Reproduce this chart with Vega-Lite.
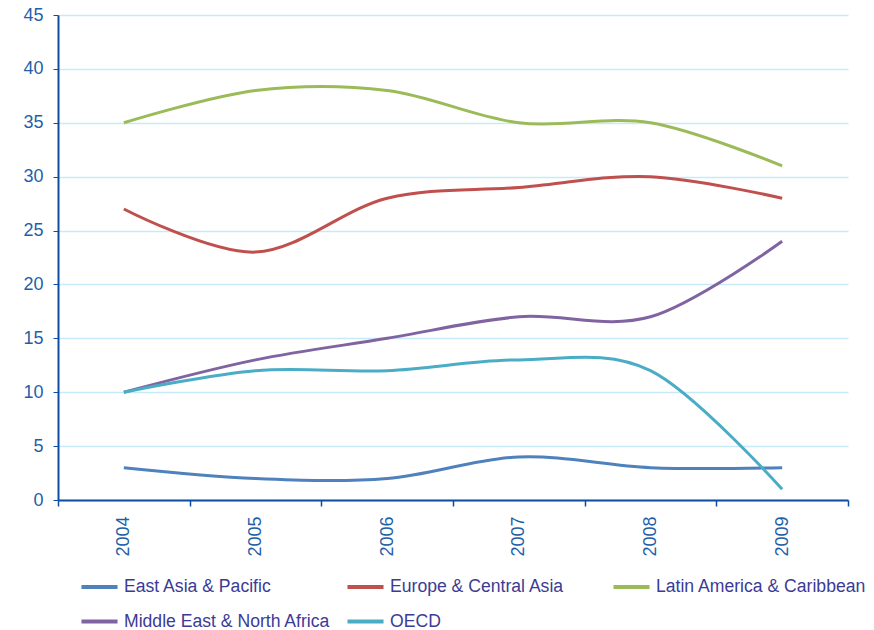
{
  "$schema": "https://vega.github.io/schema/vega-lite/v6.json",
  "width": 790,
  "height": 485,
  "autosize": {"type": "none"},
  "padding": {"left": 58, "top": 15, "right": 26, "bottom": 130},
  "background": "white",
  "config": {
    "view": {"stroke": null},
    "font": "Liberation Sans"
  },
  "data": {
    "values": [
      {"year": "2004", "region": "East Asia & Pacific", "value": 3},
      {"year": "2005", "region": "East Asia & Pacific", "value": 2},
      {"year": "2006", "region": "East Asia & Pacific", "value": 2},
      {"year": "2007", "region": "East Asia & Pacific", "value": 4},
      {"year": "2008", "region": "East Asia & Pacific", "value": 3},
      {"year": "2009", "region": "East Asia & Pacific", "value": 3},
      {"year": "2004", "region": "Europe & Central Asia", "value": 27},
      {"year": "2005", "region": "Europe & Central Asia", "value": 23},
      {"year": "2006", "region": "Europe & Central Asia", "value": 28},
      {"year": "2007", "region": "Europe & Central Asia", "value": 29},
      {"year": "2008", "region": "Europe & Central Asia", "value": 30},
      {"year": "2009", "region": "Europe & Central Asia", "value": 28},
      {"year": "2004", "region": "Latin America & Caribbean", "value": 35},
      {"year": "2005", "region": "Latin America & Caribbean", "value": 38},
      {"year": "2006", "region": "Latin America & Caribbean", "value": 38},
      {"year": "2007", "region": "Latin America & Caribbean", "value": 35},
      {"year": "2008", "region": "Latin America & Caribbean", "value": 35},
      {"year": "2009", "region": "Latin America & Caribbean", "value": 31},
      {"year": "2004", "region": "Middle East & North Africa", "value": 10},
      {"year": "2005", "region": "Middle East & North Africa", "value": 13},
      {"year": "2006", "region": "Middle East & North Africa", "value": 15},
      {"year": "2007", "region": "Middle East & North Africa", "value": 17},
      {"year": "2008", "region": "Middle East & North Africa", "value": 17},
      {"year": "2009", "region": "Middle East & North Africa", "value": 24},
      {"year": "2004", "region": "OECD", "value": 10},
      {"year": "2005", "region": "OECD", "value": 12},
      {"year": "2006", "region": "OECD", "value": 12},
      {"year": "2007", "region": "OECD", "value": 13},
      {"year": "2008", "region": "OECD", "value": 12},
      {"year": "2009", "region": "OECD", "value": 1}
    ]
  },
  "mark": {"type": "line", "interpolate": "cardinal", "strokeWidth": 3},
  "encoding": {
    "x": {
      "field": "year",
      "type": "ordinal",
      "scale": {"type": "band", "paddingInner": 0, "paddingOuter": 0},
      "axis": {
        "title": null,
        "tickBand": "extent",
        "labelAngle": -90,
        "labelAlign": "right",
        "labelBaseline": "middle",
        "labelPadding": 10,
        "labelFontSize": 18,
        "labelColor": "#1f5fa8",
        "domainColor": "#0b4ea2",
        "domainWidth": 2,
        "tickColor": "#0b4ea2",
        "tickWidth": 1.5,
        "tickSize": 6,
        "grid": false
      }
    },
    "y": {
      "field": "value",
      "type": "quantitative",
      "scale": {"domain": [0, 45], "nice": false},
      "axis": {
        "title": null,
        "values": [0, 5, 10, 15, 20, 25, 30, 35, 40, 45],
        "labelFontSize": 18,
        "labelColor": "#1f5fa8",
        "labelPadding": 10,
        "domainColor": "#0b4ea2",
        "domainWidth": 2,
        "tickColor": "#0b4ea2",
        "tickSize": 5,
        "grid": true,
        "gridColor": "#c8e9f7",
        "gridWidth": 1.5
      }
    },
    "color": {
      "field": "region",
      "type": "nominal",
      "scale": {
        "domain": ["East Asia & Pacific", "Europe & Central Asia", "Latin America & Caribbean", "Middle East & North Africa", "OECD"],
        "range": ["#4f81bd", "#c0504d", "#9bbb59", "#8064a2", "#4bacc6"]
      },
      "legend": {
        "title": null,
        "orient": "none",
        "legendX": 21,
        "legendY": 551,
        "direction": "horizontal",
        "columns": 3,
        "gridAlign": "all",
        "columnPadding": 4,
        "rowPadding": 5,
        "symbolType": "stroke",
        "symbolSize": 1300,
        "symbolStrokeWidth": 4,
        "labelFontSize": 17.6,
        "labelColor": "#3b3b96",
        "labelOffset": 4,
        "labelLimit": 300
      }
    }
  }
}
